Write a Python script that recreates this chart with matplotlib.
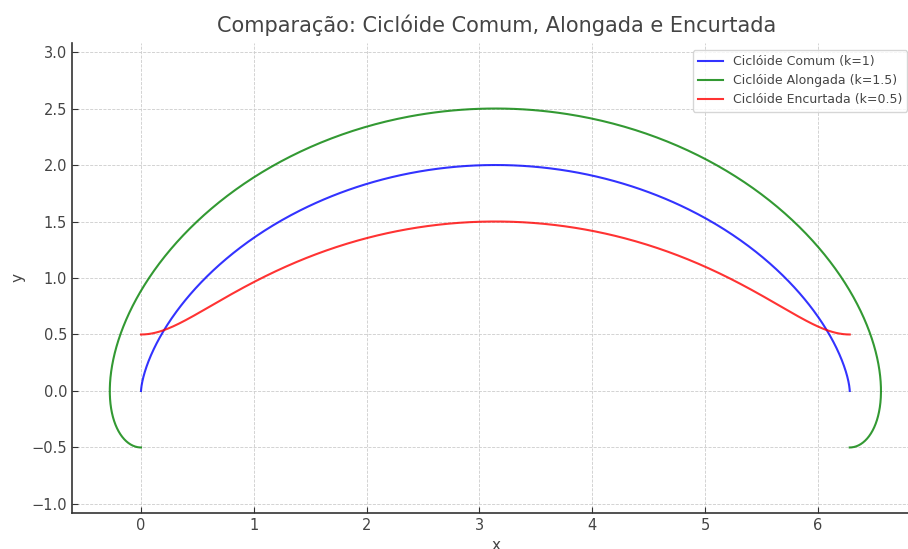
import numpy as np
import matplotlib
matplotlib.use('Agg')
import matplotlib.pyplot as plt

k_values = [1.0, 1.5, 0.5]
labels = ['Ciclóide Comum (k=1)', 'Ciclóide Alongada (k=1.5)', 'Ciclóide Encurtada (k=0.5)']
colors = ['b', 'g', 'r']
t = np.linspace(0, 2 * np.pi, 600)
y_ticks = [-1.0, -0.5, 0.0, 0.5, 1.0, 1.5, 2.0, 2.5, 3.0]
x_ticks = [0, 1, 2, 3, 4, 5, 6]

text_color = '#444444'
plt.rcParams['font.family'] = ['DejaVu Sans']

fig = plt.figure(figsize=(9.08, 5.49), dpi=100)
W, H = 908, 549
ax = fig.add_axes([72 / W, (H - 513) / H, (921 - 72) / W, (513 - 43) / H])

for k, lab, c in zip(k_values, labels, colors):
    x = t - k * np.sin(t)
    y = 1 - k * np.cos(t)
    ax.plot(x, y, color=c, lw=1.5, alpha=0.8, label=lab)

ax.set_xlim(-0.612, 6.915)
ax.set_ylim(-1.08, 3.08)
ax.set_xticks(x_ticks)
ax.set_yticks(y_ticks)
ax.grid(True, ls='--', lw=0.6, color='#cccccc')
ax.set_axisbelow(True)

for s in ['top', 'right']:
    ax.spines[s].set_visible(False)
for s in ['left', 'bottom']:
    ax.spines[s].set_color('#333333')
    ax.spines[s].set_linewidth(1.2)
ax.tick_params(direction='in', length=4, colors='#333333', labelsize=10.5,
               labelcolor=text_color)

ax.set_title('Comparação: Ciclóide Comum, Alongada e Encurtada', fontsize=15,
             color=text_color, pad=8)
ax.set_xlabel('x', fontsize=11, color=text_color)
ax.set_ylabel('y', fontsize=11, color=text_color)

leg = ax.legend(loc='upper right', bbox_to_anchor=(907 / W, 1 - 50 / H),
                bbox_transform=fig.transFigure, borderaxespad=0, fontsize=9)
for txt in leg.get_texts():
    txt.set_color(text_color)

fig.savefig('out.png', dpi=100)
